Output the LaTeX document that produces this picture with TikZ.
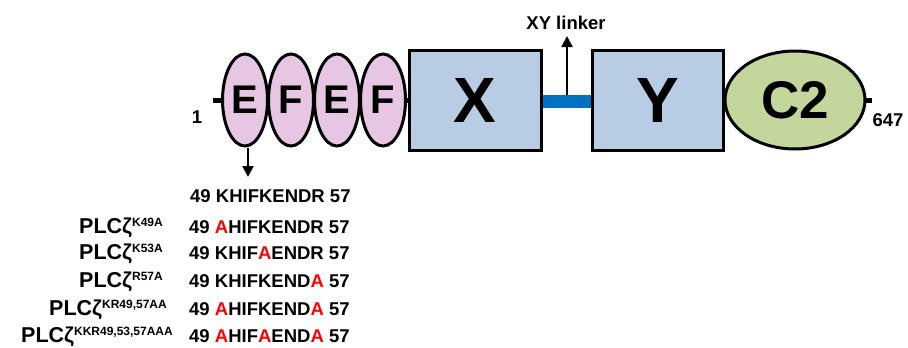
\documentclass[tikz,border=0pt]{standalone}
\usepackage{fontspec}
\setmainfont{Liberation Sans}
\usetikzlibrary{shapes.geometric,arrows.meta}

\definecolor{efpink}{HTML}{E6C6E2}
\definecolor{xyblue}{HTML}{B8CCE4}
\definecolor{ctwogreen}{HTML}{C3D69B}
\definecolor{linkerblue}{HTML}{0070C0}

\newcommand{\plcz}[1]{PLCζ\raisebox{7pt}{\fontsize{12}{13}\selectfont #1}}
\newcommand{\ala}{\textcolor{red}{A}}

\begin{document}
\begin{tikzpicture}[x=1pt,y=-1pt,
    efhand/.style={ellipse,draw,line width=3pt,fill=efpink,inner sep=0pt,
        minimum width=45pt,minimum height=92pt,font=\bfseries\fontsize{40}{42}\selectfont},
    xybox/.style={rectangle,draw,line width=3pt,fill=xyblue,inner sep=0pt,
        minimum height=100pt,font=\bfseries\fontsize{64}{66}\selectfont},
    seqtext/.style={inner sep=0pt,font=\bfseries\fontsize{18.5}{20}\selectfont},
    plctext/.style={inner sep=0pt,anchor=base east,font=\bfseries\fontsize{21.5}{23}\selectfont},
    pointer/.style={line width=2.2pt,-{Triangle[length=11pt,width=11pt]}}]
    \useasboundingbox (0,0) rectangle (908,348);

    % backbone
    \coordinate (start) at (213,100);
    \coordinate (finish) at (872,100);
    \draw[line width=5pt] (start) -- (finish);
    \node[seqtext] (one) at (197,117) {1};
    \node[seqtext] (last) at (888,120) {647};

    % EF hands
    \node[efhand] (ef1) at (245,100) {E};
    \node[efhand] (ef2) at (291,100) {F};
    \node[efhand] (ef3) at (337,100) {E};
    \node[efhand] (ef4) at (383,100) {F};

    % X and Y domains with the linker
    \node[xybox,minimum width=132pt] (xdom) at (475,100) {X};
    \node[xybox,minimum width=131pt] (ydom) at (657.5,100) {Y};
    \fill[linkerblue] (xdom.east |- 0,95) rectangle (ydom.west |- 0,108);
    \coordinate (linker) at (567,95);
    \coordinate (linkertip) at (567,36);
    \draw[pointer] (linker) -- (linkertip);
    \node[seqtext] (linkerlabel) at (566,23) {XY linker};

    % C2 domain
    \node[ellipse,draw,line width=3pt,fill=ctwogreen,inner sep=0pt,
        minimum width=140pt,minimum height=98pt,
        font=\bfseries\fontsize{53}{55}\selectfont] (ctwo) at (795,100) {C2};

    % mutated sequences
    \coordinate (eftip) at (248,177);
    \draw[pointer] (ef1.south -| eftip) -- (eftip);
    \node[seqtext,anchor=base west] (wt) at (190,202.5) {49 KHIFKENDR 57};
    \node[seqtext,anchor=base west] (mutA) at (189,233) {49 \ala HIFKENDR 57};
    \node[seqtext,anchor=base west] (mutB) at (189,259) {49 KHIF\ala ENDR 57};
    \node[seqtext,anchor=base west] (mutC) at (189,287) {49 KHIFKEND\ala\ 57};
    \node[seqtext,anchor=base west] (mutD) at (189,315) {49 \ala HIFKEND\ala\ 57};
    \node[seqtext,anchor=base west] (mutE) at (189,342) {49 \ala HIF\ala END\ala\ 57};

    \node[plctext] (plcA) at (163,233) {\plcz{K49A}};
    \node[plctext] (plcB) at (163,259) {\plcz{K53A}};
    \node[plctext] (plcC) at (163,287) {\plcz{R57A}};
    \node[plctext] (plcD) at (167,315) {\plcz{KR49,57AA}};
    \node[plctext] (plcE) at (173,342) {\plcz{KKR49,53,57AAA}};
\end{tikzpicture}
\end{document}
